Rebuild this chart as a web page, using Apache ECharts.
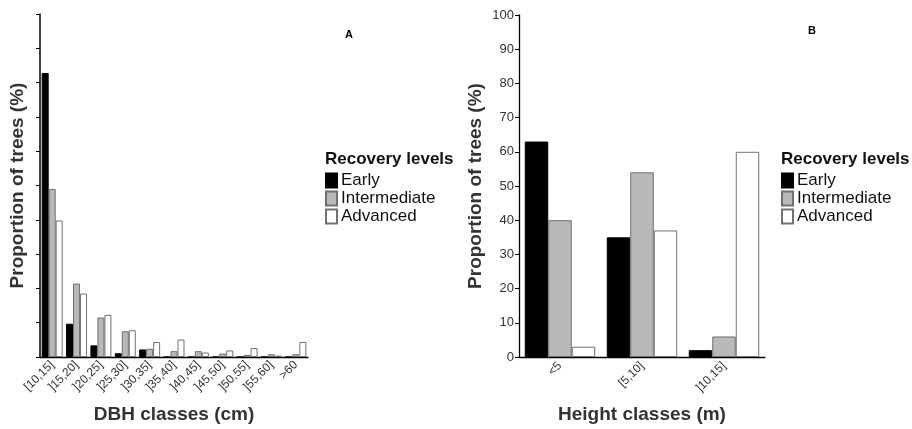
<!DOCTYPE html>
<html><head><meta charset="utf-8">
<script src="https://cdn.jsdelivr.net/npm/echarts@6/dist/echarts.min.js"></script>
<style>html,body{margin:0;padding:0;background:#fff}#c{width:912px;height:429px}</style>
</head><body><div id="c"></div>
<script>
const dbhClasses = ['[10,15]', ']15,20]', ']20,25]', ']25,30]', ']30,35]', ']35,40]', ']40,45]', ']45,50]', ']50,55]', ']55,60]', '>60'];
const dbhEarly = [82.8, 9.7, 3.4, 1.1, 2.2, 0, 0, 0, 0, 0, 0];
const dbhIntermediate = [49, 21.4, 11.5, 7.5, 2.4, 1.7, 1.7, 1.0, 0.6, 0.8, 0.8];
const dbhAdvanced = [39.8, 18.5, 12.3, 7.8, 4.4, 5.1, 1.3, 1.9, 2.6, 0.4, 4.4];

const heightClasses = ['<5', '[5,10]', ']10,15]'];
const hEarly = [63, 35, 2];
const hIntermediate = [40, 54, 6];
const hAdvanced = [3, 37, 60];

const levels = ['Early', 'Intermediate', 'Advanced'];
const styles = [
  {color: '#000000', borderColor: '#000000', borderWidth: 1},
  {color: '#b9b9b9', borderColor: '#707070', borderWidth: 1},
  {color: '#ffffff', borderColor: '#707070', borderWidth: 1}
];
const font = 'Liberation Sans, Arial, sans-serif';

const chart = echarts.init(document.getElementById('c'));
function legendTitle(x) {
  return {text: 'Recovery levels', left: x, top: 151, padding: 0,
    textStyle: {fontFamily: font, fontSize: 17, fontWeight: 'bold', color: '#111'}};
}
function legend(x) {
  return {orient: 'vertical', left: x, top: 172, padding: 0, itemGap: 1,
    itemWidth: 11, itemHeight: 14, icon: 'rect', data: levels,
    textStyle: {fontFamily: font, fontSize: 17, color: '#111', lineHeight: 16, padding: [0, 0, 0, -1]}};
}
const xAxisCommon = {
  type: 'category',
  axisLine: {lineStyle: {color: '#000', width: 1.3}},
  axisTick: {alignWithLabel: true, length: 5, lineStyle: {color: '#000'}},
  nameLocation: 'middle',
  nameTextStyle: {fontFamily: font, fontSize: 19, fontWeight: 'bold', color: '#333'}
};
const seriesList = [];
[[dbhEarly, dbhIntermediate, dbhAdvanced], [hEarly, hIntermediate, hAdvanced]].forEach((set, gi) => {
  set.forEach((d, i) => {
    seriesList.push({type: 'bar', name: levels[i], xAxisIndex: gi, yAxisIndex: gi,
      data: d, barWidth: gi === 0 ? 7 : 23.5, barGap: '0%',
      itemStyle: styles[i], emphasis: {disabled: true}, animation: false});
  });
});
chart.setOption({
  animation: false,
  title: [
    legendTitle(325), legendTitle(781),
    {text: 'A', left: 345, top: 29, padding: 0, textStyle: {fontFamily: font, fontSize: 11, fontWeight: 'bold', color: '#000'}},
    {text: 'B', left: 808, top: 25, padding: 0, textStyle: {fontFamily: font, fontSize: 11, fontWeight: 'bold', color: '#000'}}
  ],
  legend: [legend(325), legend(781)],
  grid: [
    {left: 40, top: 14, width: 268, height: 344},
    {left: 519, top: 15, width: 246, height: 343}
  ],
  xAxis: [
    Object.assign({}, xAxisCommon, {gridIndex: 0, data: dbhClasses, name: 'DBH classes (cm)', nameGap: 48,
      axisLabel: {rotate: 45, fontFamily: font, fontSize: 12, color: '#333', margin: 6, interval: 0}}),
    Object.assign({}, xAxisCommon, {gridIndex: 1, data: heightClasses, name: 'Height classes (m)', nameGap: 48,
      axisLabel: {rotate: 45, fontFamily: font, fontSize: 12, color: '#333', margin: 7, interval: 0}})
  ],
  yAxis: [
    {type: 'value', gridIndex: 0, min: 0, max: 100, interval: 10,
      axisLine: {show: true, lineStyle: {color: '#000', width: 1.5}},
      axisTick: {show: true, length: 4, lineStyle: {color: '#000'}},
      axisLabel: {show: false}, splitLine: {show: false},
      name: 'Proportion of trees (%)', nameLocation: 'middle', nameGap: 13,
      nameTextStyle: {fontFamily: font, fontSize: 19, fontWeight: 'bold', color: '#333'}},
    {type: 'value', gridIndex: 1, min: 0, max: 100, interval: 10,
      axisLine: {show: true, lineStyle: {color: '#000', width: 1.3}},
      axisTick: {show: true, length: 4, lineStyle: {color: '#000'}},
      axisLabel: {fontFamily: font, fontSize: 13, color: '#333', margin: 5}, splitLine: {show: false},
      name: 'Proportion of trees (%)', nameLocation: 'middle', nameGap: 34,
      nameTextStyle: {fontFamily: font, fontSize: 19, fontWeight: 'bold', color: '#333'}}
  ],
  series: seriesList
});
</script></body></html>
